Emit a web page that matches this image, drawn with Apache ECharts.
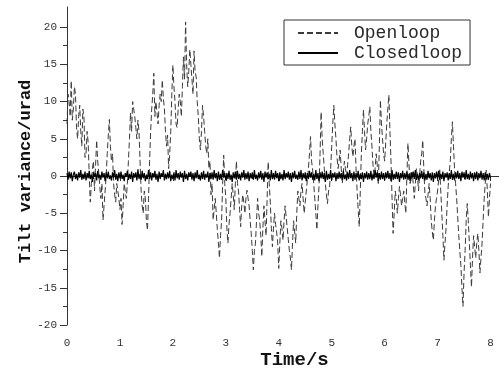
<!DOCTYPE html>
<html>
<head>
<meta charset="utf-8">
<script src="https://cdn.jsdelivr.net/npm/echarts@6/dist/echarts.min.js"></script>
<style>
html,body{margin:0;padding:0;background:#fff;}
#chart{width:499px;height:375px;}
</style>
</head>
<body>
<div id="chart"></div>
<script>
// ---- data ----
const seriesNames = ['Openloop', 'Closedloop'];
const xTickLabels = [0, 1, 2, 3, 4, 5, 6, 7, 8];
const yTickLabels = [-20, -15, -10, -5, 0, 5, 10, 15, 20];
const xMinorTicks = [0.5, 1.5, 2.5, 3.5, 4.5, 5.5, 6.5, 7.5];
const yMinorTicks = [-17.5, -12.5, -7.5, -2.5, 2.5, 7.5, 12.5, 17.5];

const sampleStep = 0.02; // s between samples (both series)
const openloop = [
  7, 11, 10, 8, 12.8, 7.5, 9, 12, 11, 6.5, 5, 8, 9.5, 6, 4, 9, 8, 2.5, 3, 6,
  4.5, 0, -3.5, -1, 1, 2, -2, 1.5, 4.8, 2, 0.5, -1.5, -3, -1, -5.9, -4, -2, 0, 3, 5.5,
  7.6, 4, 2, 3, -1, -2.5, -3.5, -1, -2, -3, -4.5, -3, -6.5, -4, -1, -2, -3, -1, 2, 5,
  8.5, 6, 10, 9, 8, 6.5, 5, 7.5, 6, 2, -2, -4, -5, -2, -3, -6, -7.3, -3, 2, 6,
  9, 11, 13.8, 8, 10, 8.5, 7, 9.5, 11, 10, 12.9, 10.5, 9, 6, 4, 5.5, 1, 3, 6, 11,
  14.9, 12, 10, 7, 6.5, 9, 11, 10, 8, 12, 16, 13, 20.7, 15, 12, 14, 17, 15, 13, 11,
  16.8, 14, 13.3, 10, 8, 5, 3.5, 6, 9.5, 8, 6, 4, 3, 5, 1, 2, -2.5, -1, -5.9, -4.5,
  -3, -5, -7.2, -9, -11, -8, -6, -1, 2.8, -1, -3, -7, -9, -6.5, -5, -3, -1, -2.5, -4.5, -1,
  2, -1, -2, -4.5, -6.8, -4, -2.5, -3.5, -5, -3, -1.9, -3, -4, -6, -7.7, -10, -12.6, -10, -9, -6,
  -3, -5, -6, -8, -10.8, -7, -4, -6, -8, -3, 1.9, -1, -3.5, -7, -9.5, -7, -5, -6.5, -7.5, -9,
  -12.4, -9, -6, -7, -8.6, -6, -4, -5.5, -7, -8.5, -10, -11, -12.6, -9, -6, -7.5, -9, -5, -2, -3,
  -4, -2, -1, -3, -5, -3.5, -2, -0.5, 1, 3, 5.3, 2, 0.8, -1, -3, -5, -7.2, -4, -1.4, 3,
  8.6, 5, 3, 1, -1, -2.5, -3.7, -2, -1.5, 1, 4, 7, 9.5, 7, 5, 2.5, 1, 2, 3.5, 1,
  -1, 0.5, 2, 1, 0, 1.5, 3, 5, 6.6, 4, 2.6, 4, 5, 1, -2, -4.5, -6.8, -2, 3, 6,
  8.9, 6, 3.5, 5, 7, 8, 9.3, 6, 4, 1.5, 0, 1, 3, 1.5, -1, 4, 10.2, 7, 5, 3,
  2, 4.5, 7, 9, 10.9, 6, 2, -3, -7.7, -5, -2, -3, -5, -3, -1.4, -2.5, -4, -3, -2, -3.5,
  -5, 0, 4.4, 1.5, -1, -0.5, 0.5, -1, -3, -1, 1, 0, -2, 0, 2, 3, 4.8, 1, -2.3, -3,
  -4, -2.5, -1, -3, -6, -7.5, -8.6, -6, -4, -3, -2, -0.5, 1, -2, -5, -8, -11.3, -9, -7, -4,
  -1.4, 0.5, 2, 5, 7.3, 4, 1, -1, -3, -5.5, -8, -10, -12, -15, -17.5, -13, -10, -6, -3.7, -6,
  -9, -12, -14.9, -11, -8, -9.5, -11, -9, -7.7, -10, -13, -11, -9, -6, -3, -1, 0.8, -2, -5.5, -3,
  -1
];

const closedloop = [
  0.4,-0.5,0.6,-0.3,0.5,-0.7,0.2,0.6,-0.4,0.3,-0.6,0.5,-0.2,0.8,-0.5,0.3,-0.4,0.6,-0.6,0.4,
  -0.3,0.7,-0.4,0.2,-0.8,0.5,-0.1,0.4,-0.6,0.7,-0.3,0.2,-0.5,0.6,-0.2,0.4,-0.7,0.5,-0.3,0.6,
  -0.4,0.1,-0.6,0.5,-0.2,0.8,-0.5,0.3,-0.7,0.5,-0.3,0.6,-0.4,0.2,-0.7,0.4,-0.1,0.7,-0.5,0.3,
  -0.4,0.6,-0.8,0.4,-0.2,0.5,-0.6,0.9,-0.4,0.3,-0.5,0.7,-0.3,0.4,-0.7,0.2,-0.4,0.8,-0.4,0.5,
  -0.6,0.4,-0.2,0.7,-0.5,0.3,-0.8,0.6,-0.4,0.4,-0.1,0.8,-0.6,0.3,-0.4,0.5,-0.3,0.7,-0.7,0.2,
  -0.4,0.5,-0.6,0.8,-0.3,0.4,-0.5,0.6,-0.2,0.4,-0.8,0.7,-0.4,0.3,-0.6,0.5,-0.1,0.6,-0.5,0.4,
  -0.7,0.5,-0.3,0.8,-0.4,0.2,-0.6,0.5,-0.4,0.7,-0.5,0.3,-0.2,0.6,-0.8,0.4,-0.4,0.5,-0.5,0.8,
  -0.3,0.4,-0.7,0.6,-0.5,0.3,-0.5,0.8,-0.2,0.4,-0.6,0.4,-0.4,0.7,-0.5,0.2,-0.8,0.5,-0.3,0.6,
  -0.5,0.7,-0.4,0.3,-0.6,0.5,-0.2,0.8,-0.5,0.4,-0.4,0.6,-0.7,0.4,-0.3,0.5,-0.5,0.8,-0.4,0.2,
  -0.6,0.5,-0.3,0.7,-0.5,0.4,-0.8,0.6,-0.2,0.5,-0.4,0.3,-0.6,0.8,-0.4,0.4,-0.5,0.7,-0.3,0.4,
  -0.7,0.5,-0.4,0.3,-0.6,0.8,-0.4,0.4,-0.2,0.6,-0.5,0.4,-0.8,0.5,-0.3,0.7,-0.4,0.2,-0.5,0.6,
  -0.4,0.8,-0.6,0.4,-0.3,0.5,-0.7,0.4,-0.4,0.7,-0.2,0.5,-0.5,0.3,-0.6,0.8,-0.4,0.4,-0.7,0.5,
  -0.3,0.6,-0.4,0.4,-0.8,0.7,-0.5,0.3,-0.4,0.8,-0.6,0.4,-0.2,0.5,-0.7,0.4,-0.4,0.6,-0.3,0.4,
  -0.5,0.7,-0.4,0.2,-0.6,0.5,-0.4,0.8,-0.3,0.4,-0.7,0.6,-0.5,0.4,-0.2,0.7,-0.6,0.3,-0.4,0.5,
  -0.8,0.4,-0.3,0.6,-0.5,0.4,-0.4,0.7,-0.6,0.3,-0.4,0.8,-0.2,0.5,-0.7,0.4,-0.5,0.6,-0.4,0.4,
  -0.6,0.5,-0.3,0.7,-0.4,0.4,-0.7,0.8,-0.5,0.3,-0.4,0.6,-0.4,0.5,-0.8,0.4,-0.3,0.7,-0.5,0.4,
  -0.4,0.6,-0.5,0.3,-0.7,0.5,-0.2,0.6,-0.4,0.8,-0.5,0.3,-0.6,0.4,-0.3,0.7,-0.4,0.5,-0.6,0.3,
  -0.5,0.7,-0.3,0.4,-0.6,0.5,-0.8,0.4,-0.3,0.6,-0.4,0.7,-0.5,0.3,-0.4,0.6,-0.7,0.4,-0.2,0.5,
  -0.6,0.4,-0.4,0.8,-0.5,0.3,-0.6,0.5,-0.3,0.7,-0.4,0.4,-0.7,0.6,-0.2,0.5,-0.5,0.8,-0.4,0.3,
  -0.5,0.6,-0.3,0.4,-0.7,0.5,-0.4,0.6,-0.6,0.4,-0.3,0.7,-0.5,0.4,-0.6,0.5,-0.4,0.3,-0.5,0.4,
  -0.2
];

// ---- build ----
const openData = openloop.map((v, i) => [+(i * sampleStep).toFixed(3), v]);
const closedData = closedloop.map((v, i) => [+(i * sampleStep).toFixed(3), v]);

const FONT = '"Liberation Mono", "DejaVu Sans Mono", monospace';
const AX = '#333';
const X_MIN = 0, X_MAX = 8.16, Y_MIN = -20, Y_MAX = 22.7;

const chart = echarts.init(document.getElementById('chart'), null, {renderer: 'canvas'});
chart.setOption({
  animation: false,
  backgroundColor: '#fff',
  grid: {left: 67, right: 0, top: 7, bottom: 50, containLabel: false},
  legend: {
    orient: 'vertical',
    left: 284, top: 20,
    padding: [4, 8, 3, 13],
    borderColor: '#333', borderWidth: 1,
    itemWidth: 40, itemHeight: 10, itemGap: 2,
    itemStyle: {opacity: 0},
    textStyle: {fontFamily: FONT, fontSize: 18, color: '#2a2a2a', padding: [0, 0, 0, 11]},
    data: seriesNames
  },
  xAxis: [{
    type: 'value', min: X_MIN, max: X_MAX, interval: 1,
    name: 'Time/s', nameLocation: 'middle', nameGap: 26, nameMoveOverlap: false,
    nameTextStyle: {fontFamily: FONT, fontSize: 19, fontWeight: 'bold', color: '#111', padding: [0, 0, 0, 23]},
    axisLine: {show: true, lineStyle: {color: AX, width: 1}},
    axisTick: {show: true, inside: false, length: 5, lineStyle: {color: AX}, customValues: xTickLabels},
    axisLabel: {fontFamily: FONT, fontSize: 11, color: '#333', margin: 13, customValues: xTickLabels},
    splitLine: {show: false}
  }, {
    type: 'value', min: X_MIN, max: X_MAX, position: 'bottom',
    axisLine: {show: false},
    axisTick: {show: true, inside: false, length: 3, lineStyle: {color: AX}, customValues: xMinorTicks},
    axisLabel: {show: false},
    splitLine: {show: false}
  }],
  yAxis: [{
    type: 'value', min: Y_MIN, max: Y_MAX, interval: 5,
    name: 'Tilt variance/urad', nameLocation: 'middle', nameGap: 33, nameMoveOverlap: false,
    nameTextStyle: {fontFamily: FONT, fontSize: 17, fontWeight: 'bold', color: '#111', padding: [0, 11, 0, 0]},
    axisLine: {show: true, lineStyle: {color: AX, width: 1}},
    axisTick: {show: true, inside: false, length: 7, lineStyle: {color: AX}, customValues: yTickLabels},
    axisLabel: {fontFamily: FONT, fontSize: 11, color: '#333', margin: 10, customValues: yTickLabels},
    splitLine: {show: false}
  }, {
    type: 'value', min: Y_MIN, max: Y_MAX, position: 'left',
    axisLine: {show: false},
    axisTick: {show: true, inside: false, length: 4, lineStyle: {color: AX}, customValues: yMinorTicks},
    axisLabel: {show: false},
    splitLine: {show: false}
  }],
  series: [{
    name: seriesNames[0], type: 'line', data: openData,
    xAxisIndex: 0, yAxisIndex: 0,
    symbol: 'none', smooth: false,
    lineStyle: {color: '#3a3a3a', width: 1, type: [6, 3]},
    itemStyle: {color: '#3a3a3a'},
    z: 2
  }, {
    name: seriesNames[1], type: 'line', data: closedData,
    xAxisIndex: 0, yAxisIndex: 0,
    symbol: 'none', smooth: false,
    lineStyle: {color: '#000', width: 1.2},
    itemStyle: {color: '#000'},
    z: 3
  }]
});
</script>
</body>
</html>
